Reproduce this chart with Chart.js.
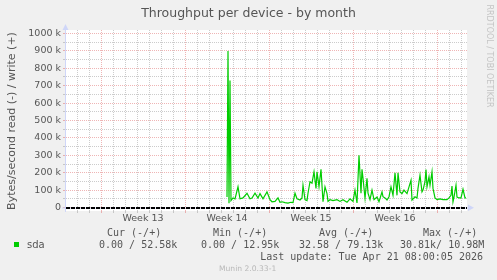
<!DOCTYPE html>
<html><head><meta charset="utf-8">
<script src="https://cdn.jsdelivr.net/npm/chart.js@4"></script>
<style>html,body{margin:0;padding:0;background:#f0f0f0;}#wrap{width:497px;height:280px;}</style>
</head><body><div id="wrap"><canvas id="c" width="497" height="280"></canvas></div>
<script>
// hours relative to start of Week 13 (Mon 00:00)
const hours = [252,254,256,258,260,264,268,274,278,284,292,298,302,308,314,318,324,332,338,342,348,354,358,362,368,374,380,384,388,392,398,402,404,408,412,414,418,422,426,430,432,436,440,444,448,452,454,458,464,472,478,484,492,498,504,508,512,516,520,522,524,528,532,534,538,542,546,552,556,562,564,568,572,576,580,584,588,592,594,598,602,606,612,616,620,622,628,632,634,638,642,644,648,650,652,656,658,662,664,668,672,678,684,692,696,700,702,704,706,710,712,716,720,724,728,730];
// write bytes/second, in k
const writeK = [60,900,25,730,40,55,50,119,50,55,82,50,55,83,55,80,50,90,45,33,35,55,30,33,28,25,30,28,82,50,43,55,128,45,40,82,148,140,205,110,205,120,220,33,119,80,35,45,40,45,35,45,30,50,35,100,26,300,82,220,168,54,168,82,45,100,45,60,33,90,62,55,43,62,119,70,199,70,199,90,80,100,80,119,157,43,62,55,110,186,90,100,148,218,119,176,128,205,110,55,45,50,45,45,55,70,123,33,60,128,60,55,55,105,55,55];

const weekLabels = ['Week 13','Week 14','Week 15','Week 16'];
const weekMidHours = [84,252,420,588];
const weekStartHours = [0,168,336,504,672];
const yMajorK = [0,100,200,300,400,500,600,700,800,900,1000];
const yMinorK = [50,150,250,350,450,550,650,750,850,950];

const legendHeaders = ['Cur (-/+)','Min (-/+)','Avg (-/+)','Max (-/+)'];
const legendValues = ['0.00 / 52.58k','0.00 / 12.95k','32.58 / 79.13k','30.81k/ 10.98M'];
const seriesName = 'sda';
const titleText = 'Throughput per device - by month';
const yTitle = 'Bytes/second read (-) / write (+)';
const lastUpdate = 'Last update: Tue Apr 21 08:00:05 2026';
const watermark = 'RRDTOOL / TOBI OETIKER';
const version = 'Munin 2.0.33-1';

const GREEN = '#00cc00';
const RED_GRID = 'rgba(225,120,120,0.55)';
const GRAY_GRID = 'rgba(170,170,170,0.6)';
const AXIS = '#cfd6f8';
const FONT_COLOR = '#555';

const xTicks = [];
for (let h = -60; h <= 720; h += 12) xTicks.push(h);
const yTicks = yMajorK.concat(yMinorK).map(v => v * 1000).sort((a, b) => a - b);

const deco = {
  id: 'deco',
  beforeDraw(chart) {
    const {ctx, chartArea: a} = chart;
    ctx.save();
    ctx.fillStyle = '#f0f0f0';
    ctx.fillRect(0, 0, chart.width, chart.height);
    ctx.fillStyle = '#ffffff';
    ctx.fillRect(a.left, a.top, a.right - a.left, a.bottom - a.top);
    ctx.restore();
  },
  afterDatasetsDraw(chart) {
    const {ctx, chartArea: a} = chart;
    const y0 = chart.scales.y.getPixelForValue(0);
    ctx.save();
    ctx.strokeStyle = AXIS; ctx.fillStyle = AXIS; ctx.lineWidth = 1;
    ctx.beginPath(); ctx.moveTo(65.5, a.bottom + 1); ctx.lineTo(65.5, a.top - 1); ctx.stroke();
    ctx.beginPath(); ctx.moveTo(62.5, a.top); ctx.lineTo(68.5, a.top); ctx.lineTo(65.5, a.top - 6); ctx.closePath(); ctx.fill();
    ctx.beginPath(); ctx.moveTo(62, y0 + 0.5); ctx.lineTo(a.right + 1, y0 + 0.5); ctx.stroke();
    ctx.beginPath(); ctx.moveTo(a.right + 1, y0 - 3); ctx.lineTo(a.right + 1, y0 + 3.5); ctx.lineTo(a.right + 7, y0 + 0.25); ctx.closePath(); ctx.fill();
    ctx.strokeStyle = '#000'; ctx.lineWidth = 2; ctx.setLineDash([4, 1]);
    ctx.beginPath(); ctx.moveTo(a.left, y0 + 0.5); ctx.lineTo(a.right, y0 + 0.5); ctx.stroke();
    ctx.setLineDash([]);
    ctx.restore();
  },
  afterDraw(chart) {
    const {ctx} = chart;
    ctx.save();
    ctx.textBaseline = 'middle';
    ctx.fillStyle = FONT_COLOR;
    ctx.font = '12.5px "DejaVu Sans"';
    ctx.textAlign = 'center';
    ctx.fillText(titleText, 248.5, 14);
    ctx.save();
    ctx.translate(12, 121); ctx.rotate(-Math.PI / 2);
    ctx.font = '11px "DejaVu Sans"';
    ctx.fillText(yTitle, 0, 0);
    ctx.restore();
    ctx.save();
    ctx.translate(489, 56); ctx.rotate(Math.PI / 2);
    ctx.fillStyle = '#c4c4c4';
    ctx.font = '8px "DejaVu Sans"';
    ctx.fillText(watermark, 0, 0);
    ctx.restore();
    ctx.fillStyle = GREEN;
    ctx.fillRect(14, 242, 5, 5);
    ctx.fillStyle = FONT_COLOR;
    ctx.textAlign = 'left';
    ctx.font = '10px "DejaVu Sans"';
    ctx.fillText(seriesName, 27, 245);
    ctx.font = '10px "DejaVu Sans Mono"';
    const hx = [107, 213, 319, 423];
    const vx = [99, 201, 299, 400];
    legendHeaders.forEach((t, i) => ctx.fillText(t, hx[i], 233));
    legendValues.forEach((t, i) => ctx.fillText(t, vx[i], 245));
    ctx.textAlign = 'right';
    ctx.fillText(lastUpdate, 483, 257);
    ctx.textAlign = 'left';
    ctx.fillStyle = '#b8b8b8';
    ctx.font = '7.6px "DejaVu Sans"';
    ctx.fillText(version, 219, 269);
    ctx.restore();
  }
};

new Chart(document.getElementById('c'), {
  type: 'line',
  data: {
    datasets: [{
      label: seriesName,
      data: hours.map((h, i) => ({x: h, y: writeK[i] * 1000})),
      borderColor: GREEN,
      borderWidth: 1.2,
      pointRadius: 0,
      fill: false,
      tension: 0
    }]
  },
  options: {
    responsive: false,
    animation: false,
    devicePixelRatio: 1,
    layout: {padding: {top: 30, right: 30, left: 0, bottom: 0}},
    plugins: {legend: {display: false}, tooltip: {enabled: false}, title: {display: false}},
    scales: {
      x: {
        type: 'linear', min: -70, max: 732,
        afterBuildTicks: s => { s.ticks = xTicks.map(v => ({value: v})); },
        afterFit: s => { s.height = 69; s.paddingLeft = 0; s.paddingRight = 0; },
        grid: {
          color: c => { const v = c.tick.value; return weekStartHours.includes(v) ? RED_GRID : (v % 24 === 0 ? GRAY_GRID : 'rgba(0,0,0,0)'); },
          lineWidth: 1, drawTicks: true, tickLength: 2
        },
        border: {display: false, dash: [1, 1]},
        ticks: {
          autoSkip: false, maxRotation: 0, minRotation: 0, padding: 0,
          color: FONT_COLOR, font: {family: 'DejaVu Sans', size: 9.5},
          callback: v => { const i = weekMidHours.indexOf(v); return i >= 0 ? weekLabels[i] : ''; }
        }
      },
      y: {
        type: 'linear', min: -20000, max: 1020000,
        afterBuildTicks: s => { s.ticks = yTicks.map(v => ({value: v})); },
        afterFit: s => { s.width = 66; s.paddingTop = 0; s.paddingBottom = 0; },
        grid: {
          color: c => yMajorK.includes(c.tick.value / 1000) ? RED_GRID : GRAY_GRID,
          lineWidth: 1, drawTicks: true, tickLength: 3
        },
        border: {display: false, dash: [1, 1]},
        ticks: {
          autoSkip: false, padding: 2,
          color: FONT_COLOR, font: {family: 'DejaVu Sans', size: 9.5},
          callback: v => { const k = v / 1000; if (!yMajorK.includes(k)) return ''; return k === 0 ? '0' : k + ' k'; }
        }
      }
    }
  },
  plugins: [deco]
});
</script>
</body></html>
